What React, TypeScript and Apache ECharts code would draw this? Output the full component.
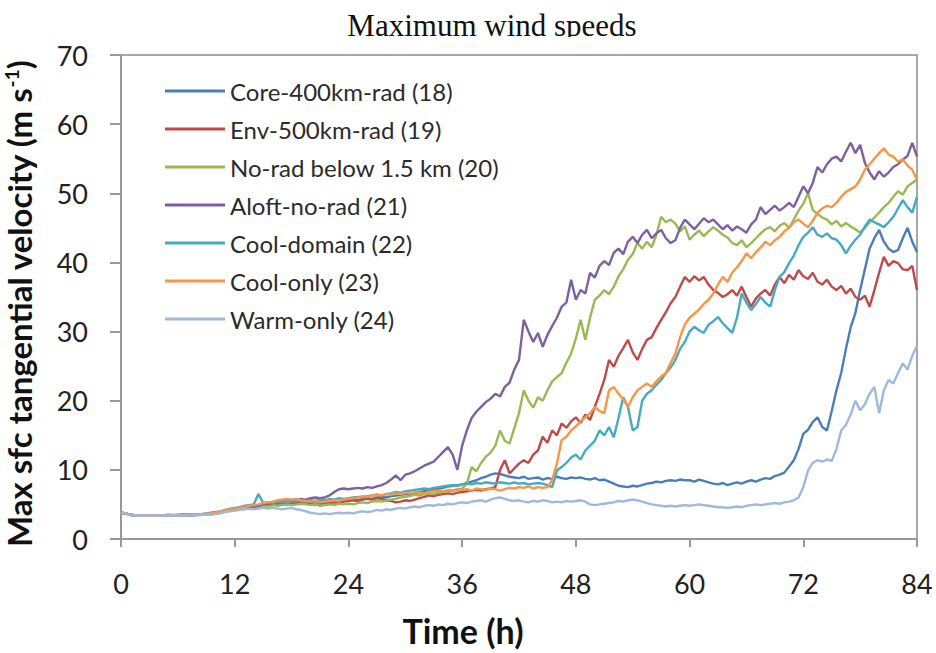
import React, { useEffect, useRef } from "react";
import * as echarts from "echarts";

// Model time, every half hour from 0 to 84 h
const hours: number[] = Array.from({ length: 169 }, (_, i) => i / 2);

const xTicks = [0, 12, 24, 36, 48, 60, 72, 84];

const seriesNames = [
  "Core-400km-rad (18)",
  "Env-500km-rad (19)",
  "No-rad below 1.5 km (20)",
  "Aloft-no-rad (21)",
  "Cool-domain (22)",
  "Cool-only (23)",
  "Warm-only (24)",
];

const seriesColors = ["#4A7EBB", "#BE4B48", "#98B954", "#7D60A0", "#46AAC5", "#F79646", "#9DB9DD"];

// Max surface tangential velocity (m/s), one row per 12 h
const core400 = [
  3.8, 3.7, 3.5, 3.4, 3.4, 3.4, 3.4, 3.4, 3.4, 3.4, 3.4, 3.4, 3.4, 3.5, 3.4, 3.5, 3.5, 3.5, 3.6, 3.7, 3.8, 3.9, 4.1, 4.2,
  4.3, 4.4, 4.6, 4.7, 4.8, 4.7, 4.9, 5.0, 4.9, 5.1, 5.2, 5.0, 5.1, 5.2, 5.3, 5.1, 5.2, 5.3, 5.4, 5.3, 5.4, 5.5, 5.4, 5.6,
  5.6, 5.7, 5.6, 5.8, 5.9, 5.8, 6.0, 6.1, 6.0, 6.2, 6.3, 6.4, 6.5, 6.4, 6.6, 6.8, 6.9, 7.0, 7.2, 7.3, 7.4, 7.6, 7.7, 7.8,
  7.9, 8.1, 8.3, 8.5, 8.8, 9.0, 9.3, 9.5, 9.4, 9.2, 9.0, 8.9, 8.8, 9.0, 8.7, 8.8, 8.9, 8.6, 8.8, 8.7, 9.0, 8.8, 8.7, 8.9,
  8.8, 8.9, 8.7, 8.6, 8.8, 8.5, 8.6, 8.3, 8.0, 7.7, 7.6, 7.5, 7.7, 7.6, 7.8, 8.0, 8.1, 8.3, 8.2, 8.4, 8.5, 8.4, 8.6, 8.5,
  8.5, 8.3, 8.6, 8.4, 8.2, 8.0, 7.9, 8.1, 7.8, 8.0, 8.2, 8.0, 8.3, 8.5, 8.3, 8.6, 8.8, 8.7, 9.1, 9.3, 9.6, 10.5, 11.4, 13.0,
  15.2, 15.8, 16.9, 17.6, 16.2, 15.7, 18.5, 21.5, 24.0, 27.5, 30.6, 32.7, 36.0, 39.0, 42.0, 43.5, 44.7, 43.0, 42.0, 41.5, 41.8, 43.5, 45.0, 43.0,
  41.5,
];

const env500 = [
  3.8, 3.7, 3.5, 3.4, 3.4, 3.4, 3.4, 3.4, 3.4, 3.4, 3.5, 3.4, 3.4, 3.5, 3.5, 3.4, 3.5, 3.6, 3.6, 3.7, 3.8, 3.9, 4.1, 4.2,
  4.3, 4.4, 4.5, 4.7, 4.6, 4.8, 4.9, 4.8, 5.0, 4.9, 5.1, 5.0, 5.2, 5.1, 5.3, 5.2, 5.0, 4.9, 5.1, 5.0, 5.2, 5.3, 5.2, 5.4,
  5.5, 5.6, 5.5, 5.7, 5.8, 5.7, 5.9, 5.8, 5.6, 5.5, 5.3, 5.4, 5.6, 5.5, 5.7, 5.9, 6.1, 6.3, 6.2, 6.4, 6.5, 6.6, 6.5, 6.7,
  6.8, 6.9, 7.0, 7.1, 7.0, 7.2, 7.3, 7.5, 10.0, 11.4, 9.5, 10.2, 10.9, 11.4, 11.0, 12.2, 12.8, 14.8, 13.9, 15.7, 15.0, 16.7, 16.1, 17.0,
  17.6, 16.8, 18.0, 17.2, 19.1, 21.0, 23.0, 25.9, 24.9, 26.5, 27.6, 28.8, 27.0, 25.9, 27.5, 28.8, 29.2, 30.5, 31.7, 32.8, 34.1, 35.0, 36.5, 37.9,
  37.2, 38.0, 37.4, 37.9, 36.8, 36.0, 35.6, 35.0, 35.4, 36.0, 35.2, 36.5, 35.0, 33.6, 34.8, 35.5, 36.0, 35.2, 36.8, 37.9, 37.0, 38.2, 37.5, 38.9,
  38.0, 37.6, 38.5, 37.2, 36.8, 37.5, 36.5, 36.0, 36.6, 35.5, 36.2, 35.0, 34.6, 35.2, 33.6, 36.0, 38.5, 40.8, 39.5, 40.2, 39.9, 39.0, 38.9, 39.5,
  36.0,
];

const noRadLow = [
  3.8, 3.7, 3.5, 3.4, 3.4, 3.4, 3.4, 3.4, 3.4, 3.4, 3.4, 3.4, 3.5, 3.4, 3.5, 3.5, 3.5, 3.6, 3.6, 3.7, 3.8, 3.9, 4.0, 4.2,
  4.3, 4.4, 4.5, 4.6, 4.6, 4.7, 4.8, 4.7, 4.9, 4.8, 4.9, 5.0, 4.9, 5.0, 5.1, 5.0, 4.9, 5.0, 4.8, 4.9, 5.0, 4.9, 5.1, 5.0,
  5.1, 5.0, 5.2, 5.3, 5.2, 5.4, 5.5, 5.4, 5.6, 5.7, 5.8, 6.0, 6.1, 6.2, 6.4, 6.3, 6.5, 6.6, 6.5, 6.7, 6.8, 6.9, 7.0, 7.1,
  7.3, 8.0, 10.4, 9.8, 11.0, 11.9, 12.5, 13.5, 15.7, 14.2, 13.8, 16.0, 18.2, 21.5, 20.0, 19.0, 20.5, 20.0, 21.5, 22.8, 23.4, 24.0, 25.5, 26.8,
  29.0, 31.7, 28.8, 32.0, 34.6, 35.2, 36.0, 35.4, 36.5, 38.0, 39.0, 40.4, 41.2, 42.8, 42.0, 43.0, 42.2, 44.0, 46.6, 45.8, 46.2, 45.6, 44.5, 45.2,
  43.3, 44.0, 44.6, 43.8, 44.5, 45.1, 44.6, 44.0, 43.6, 42.8, 42.5, 43.2, 42.2, 42.8, 43.5, 44.2, 44.8, 45.1, 44.5, 45.3, 45.7, 45.0, 46.2, 47.5,
  48.5, 50.0, 47.6, 47.0, 46.5, 46.2, 45.5, 46.0, 45.2, 45.7, 45.2, 44.8, 44.3, 45.0, 45.8, 46.5, 47.2, 48.0, 48.6, 49.5, 50.3, 49.8, 51.0, 51.5,
  52.0,
];

const aloftNoRad = [
  3.8, 3.7, 3.5, 3.4, 3.4, 3.4, 3.4, 3.4, 3.4, 3.4, 3.4, 3.4, 3.4, 3.5, 3.5, 3.5, 3.5, 3.6, 3.6, 3.6, 3.7, 3.8, 4.0, 4.1,
  4.2, 4.3, 4.5, 4.6, 4.7, 4.8, 5.0, 5.1, 5.2, 5.3, 5.5, 5.4, 5.6, 5.7, 5.8, 5.7, 5.9, 6.0, 5.9, 6.0, 6.3, 6.8, 7.2, 7.3,
  7.2, 7.3, 7.4, 7.3, 7.5, 7.4, 7.6, 7.8, 8.1, 8.6, 9.2, 8.5, 9.3, 9.5, 9.8, 10.2, 10.6, 10.9, 11.2, 11.9, 12.6, 13.3, 12.2, 10.0,
  13.5, 15.7, 17.5, 18.4, 19.1, 19.8, 20.3, 21.0, 20.6, 22.0, 22.6, 24.5, 25.9, 31.7, 30.0, 28.5, 29.8, 27.8, 29.5, 30.8, 32.0, 33.6, 34.2, 37.5,
  34.6, 36.0, 35.5, 38.5, 37.8, 39.5, 40.2, 39.6, 41.4, 42.0, 41.2, 43.0, 43.7, 42.8, 44.0, 44.7, 43.5, 44.2, 44.7, 43.5, 42.8, 43.2, 45.0, 46.2,
  45.5, 44.8, 45.6, 46.4, 45.8, 46.2, 45.5, 44.8, 45.4, 44.6, 45.2, 44.8, 44.3, 45.5, 46.2, 48.0, 47.0, 47.6, 48.2, 47.5, 48.0, 48.6, 48.0, 49.5,
  51.0, 50.0, 51.5, 53.8, 53.0, 54.2, 55.0, 55.3, 54.6, 56.0, 57.3, 55.8, 57.0, 54.4, 53.0, 52.0, 53.2, 52.4, 53.0, 53.8, 54.2, 54.9, 55.4, 57.3,
  55.3,
];

const coolDomain = [
  3.8, 3.7, 3.5, 3.4, 3.4, 3.4, 3.4, 3.4, 3.4, 3.4, 3.4, 3.4, 3.5, 3.4, 3.5, 3.5, 3.6, 3.6, 3.7, 3.8, 3.9, 4.0, 4.2, 4.4,
  4.5, 4.6, 4.8, 4.9, 5.0, 6.5, 5.2, 5.3, 5.2, 5.4, 5.3, 5.5, 5.4, 5.6, 5.5, 5.4, 5.6, 5.5, 5.7, 5.6, 5.8, 5.7, 5.9, 5.8,
  5.9, 6.0, 6.1, 6.0, 6.2, 6.3, 6.4, 6.3, 6.5, 6.6, 6.8, 6.7, 6.9, 7.0, 7.1, 7.2, 7.3, 7.2, 7.4, 7.5, 7.6, 7.7, 7.8, 7.7,
  7.9, 8.0, 7.9, 8.1, 8.0, 8.2, 8.1, 8.0, 8.2, 8.1, 8.0, 8.2, 8.0, 8.1, 7.9, 8.0, 8.1, 8.0, 7.8, 7.5, 9.9, 10.4, 11.0, 11.8,
  12.2, 11.5, 12.8, 13.5, 14.2, 15.7, 15.0, 16.2, 14.7, 17.5, 20.5, 19.1, 15.7, 16.2, 20.0, 21.0, 21.5, 22.3, 23.0, 24.0, 24.8, 25.9, 27.5, 28.5,
  30.0, 30.7, 30.2, 29.8, 31.0, 31.5, 32.1, 31.2, 30.5, 29.8, 32.0, 35.5, 34.2, 33.1, 34.0, 35.0, 34.2, 33.6, 36.0, 37.9, 38.6, 39.9, 41.0, 42.5,
  43.7, 44.3, 45.1, 44.0, 43.7, 44.2, 43.5, 43.3, 42.5, 41.3, 42.4, 43.3, 44.0, 45.2, 46.2, 45.8, 45.5, 45.1, 45.8, 46.6, 47.8, 49.0, 48.0, 47.2,
  49.5,
];

const coolOnly = [
  3.8, 3.7, 3.5, 3.4, 3.4, 3.4, 3.4, 3.4, 3.4, 3.4, 3.4, 3.5, 3.4, 3.5, 3.5, 3.5, 3.6, 3.6, 3.7, 3.7, 3.8, 4.0, 4.1, 4.3,
  4.4, 4.5, 4.6, 4.8, 4.9, 5.0, 5.2, 5.3, 5.4, 5.6, 5.7, 5.8, 5.7, 5.8, 5.6, 5.5, 5.4, 5.5, 5.3, 5.4, 5.5, 5.6, 5.5, 5.7,
  5.8, 5.9, 6.0, 6.2, 6.1, 6.3, 6.4, 6.3, 6.5, 6.4, 6.6, 6.5, 6.7, 6.6, 6.8, 6.7, 6.6, 6.8, 6.9, 7.0, 6.9, 7.1, 7.0, 7.2,
  7.1, 7.2, 7.0, 7.3, 7.2, 7.1, 7.3, 7.2, 7.0, 7.2, 7.4, 7.3, 7.5, 7.4, 7.6, 7.3, 7.5, 7.4, 7.5, 8.5, 10.9, 14.3, 14.8, 15.7,
  16.3, 17.0, 17.6, 18.2, 19.1, 18.5, 18.2, 21.5, 22.0, 21.0, 20.2, 19.1, 20.5, 21.5, 22.0, 22.5, 22.0, 22.8, 23.5, 24.0, 25.5, 26.8, 29.2, 31.0,
  32.0, 32.6, 33.2, 34.0, 34.6, 35.5, 36.8, 37.9, 37.2, 38.5, 39.3, 40.2, 41.3, 40.6, 41.5, 42.2, 43.0, 42.5, 43.2, 43.7, 44.5, 45.0, 45.8, 46.2,
  45.6, 45.1, 46.0, 47.2, 47.8, 48.2, 48.0, 48.6, 49.5, 50.2, 50.6, 51.0, 52.0, 53.4, 54.2, 55.0, 55.8, 56.5, 55.6, 55.3, 54.6, 54.9, 54.0, 53.4,
  52.0,
];

const warmOnly = [
  3.8, 3.7, 3.5, 3.4, 3.4, 3.4, 3.4, 3.4, 3.4, 3.4, 3.4, 3.4, 3.4, 3.4, 3.4, 3.5, 3.4, 3.5, 3.5, 3.5, 3.6, 3.7, 3.9, 4.0,
  4.1, 4.2, 4.3, 4.4, 4.3, 4.4, 4.5, 4.4, 4.5, 4.4, 4.3, 4.4, 4.5, 4.3, 4.2, 4.0, 3.8, 3.7, 3.6, 3.7, 3.6, 3.7, 3.8, 3.7,
  3.8, 3.7, 3.9, 4.0, 3.9, 4.0, 4.2, 4.1, 4.3, 4.2, 4.4, 4.5, 4.4, 4.6, 4.7, 4.6, 4.8, 4.9, 4.8, 5.0, 4.9, 5.1, 5.0, 5.2,
  5.3, 5.2, 5.4, 5.5, 5.6, 5.4, 5.7, 5.9, 6.0, 5.8, 5.6, 5.5, 5.6, 5.4, 5.3, 5.5, 5.4, 5.6, 5.5, 5.3, 5.4, 5.3, 5.5, 5.4,
  5.5, 5.6, 5.4, 5.0, 4.9, 5.0, 5.1, 5.2, 5.3, 5.5, 5.4, 5.6, 5.7, 5.6, 5.4, 5.2, 5.0, 4.9, 4.8, 4.7, 4.8, 4.7, 4.8, 4.9,
  4.8, 4.9, 5.0, 4.9, 4.8, 4.7, 4.6, 4.6, 4.5, 4.6, 4.7, 4.6, 4.8, 4.9, 5.0, 4.9, 5.0, 5.1, 5.2, 5.1, 5.3, 5.4, 5.6, 6.0,
  7.5, 9.9, 11.0, 11.4, 11.2, 11.5, 11.3, 13.0, 15.7, 16.5, 18.0, 20.0, 18.6, 19.5, 21.0, 22.0, 18.2, 21.5, 23.0, 22.5, 24.0, 25.4, 24.5, 26.5,
  28.0,
];

const seriesValues = [core400, env500, noRadLow, aloftNoRad, coolDomain, coolOnly, warmOnly];

const sansFont = "Lato, 'Open Sans', sans-serif";

export default function App() {
  const ref = useRef<HTMLDivElement>(null);

  useEffect(() => {
    if (!ref.current) return;
    const chart = echarts.init(ref.current, undefined, { renderer: "svg" });

    const series = seriesNames.map((name, k) => ({
      name,
      type: "line",
      showSymbol: false,
      symbol: "none",
      data: hours.map((t, i) => [t, seriesValues[k][i]]),
      lineStyle: { color: seriesColors[k], width: 2.4 },
      itemStyle: { color: seriesColors[k] },
      z: 2 + k,
    }));

    chart.setOption({
      animation: false,
      backgroundColor: "#ffffff",
      title: {
        text: "Maximum wind speeds",
        left: 487,
        textAlign: "center",
        top: 5,
        textStyle: {
          fontFamily: "'Liberation Serif', 'Times New Roman', serif",
          fontSize: 31,
          fontWeight: "normal",
          color: "#111111",
        },
      },
      graphic: [
        {
          type: "rect",
          z: 100,
          shape: { x: 300, y: 37, width: 380, height: 14 },
          style: { fill: "#ffffff" },
        },
      ],
      legend: {
        orient: "vertical",
        left: 160,
        top: 74,
        icon: "rect",
        itemWidth: 60,
        itemHeight: 3,
        itemGap: 14,
        data: seriesNames,
        textStyle: { fontFamily: sansFont, fontSize: 24, color: "#2b2b2b" },
      },
      grid: {
        left: 121,
        right: 19,
        top: 55,
        bottom: 114,
        show: true,
        outerBoundsMode: "none",
        containLabel: false,
        borderColor: "#a8a8a8",
        borderWidth: 2,
        backgroundColor: "transparent",
      },
      xAxis: {
        type: "value",
        min: 0,
        max: 84,
        interval: 12,
        name: "Time (h)",
        nameLocation: "middle",
        nameGap: 74,
        nameTextStyle: {
          fontFamily: sansFont,
          fontSize: 34,
          fontWeight: "bold",
          color: "#111111",
          padding: [0, 112, 0, 0],
        },
        axisLine: { show: true, lineStyle: { color: "#999999", width: 2 } },
        axisTick: { show: true, length: 8, lineStyle: { color: "#999999", width: 2 } },
        axisLabel: {
          margin: 31,
          fontFamily: sansFont,
          fontSize: 27,
          color: "#222222",
          formatter: (v: number) => (xTicks.includes(v) ? String(v) : ""),
        },
        splitLine: { show: false },
      },
      yAxis: {
        type: "value",
        min: 0,
        max: 70,
        interval: 10,
        name: "Max sfc tangential velocity (m s{sup|-1})",
        nameLocation: "middle",
        nameGap: 86,
        nameRotate: 90,
        nameTextStyle: {
          fontFamily: sansFont,
          fontSize: 33,
          fontWeight: "bold",
          color: "#111111",
          padding: [0, 14, 0, 0],
          rich: {
            sup: {
              fontFamily: sansFont,
              fontSize: 19,
              fontWeight: "bold",
              color: "#111111",
              verticalAlign: "top",
              padding: [0, 0, 12, 0],
            },
          },
        },
        axisLine: { show: true, lineStyle: { color: "#999999", width: 2 } },
        axisTick: { show: true, length: 11, lineStyle: { color: "#999999", width: 2 } },
        axisLabel: {
          margin: 33,
          fontFamily: sansFont,
          fontSize: 27,
          color: "#222222",
        },
        splitLine: { show: false },
      },
      series,
    });

    return () => chart.dispose();
  }, []);

  return (
    <div
      ref={ref}
      style={{ position: "fixed", left: 0, top: 0, width: 936, height: 653, background: "#ffffff" }}
    />
  );
}
